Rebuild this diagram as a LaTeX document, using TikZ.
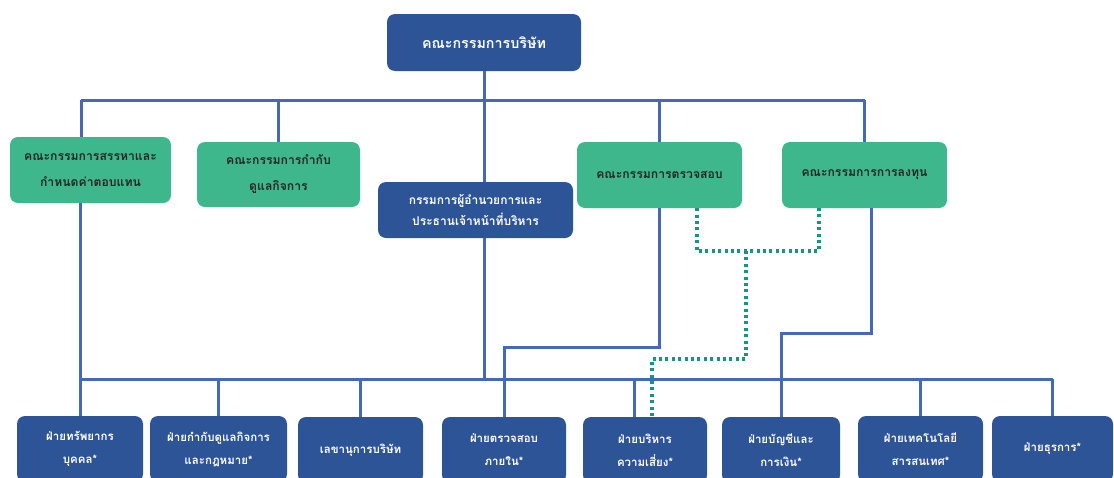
\documentclass[tikz,border=0pt]{standalone}
\usepackage{fontspec}
\newfontfamily\thaifont[Script=Thai]{Loma}
\usepackage{xcolor}
\definecolor{boardblue}{RGB}{45,84,150}
\definecolor{cmtgreen}{RGB}{62,183,140}
\definecolor{wireblue}{RGB}{70,104,184}
\definecolor{dotteal}{RGB}{20,150,128}

\begin{document}
\begin{tikzpicture}[x=1pt,y=-1pt]
  % Define overall style for the chart
  \tikzset{
    topbox/.style={
      fill=boardblue,
      rounded corners=8pt,
      inner sep=0pt,
      align=center,
      text=white,
      font=\thaifont\bfseries\fontsize{12}{21}\selectfont
    },
    cmtbox/.style={
      fill=cmtgreen,
      rounded corners=8pt,
      inner sep=0pt,
      minimum width=163pt,
      minimum height=66pt,
      align=center,
      text=black!85,
      font=\thaifont\bfseries\fontsize{12.2}{26}\selectfont
    },
    deptbox/.style={
      fill=boardblue,
      rounded corners=8pt,
      inner sep=0pt,
      minimum height=66pt,
      align=center,
      text=white,
      font=\thaifont\bfseries\fontsize{11.5}{23}\selectfont
    },
    wire/.style={
      draw=wireblue,
      line width=3pt
    },
    dotwire/.style={
      draw=dotteal,
      line width=3.2pt,
      dash pattern=on 3pt off 3.4pt
    }
  }

  \useasboundingbox (0,0) rectangle (1114,477);
  \clip (0,0) rectangle (1114,477);

  % Board and CEO
  \node[topbox, minimum width=194pt, minimum height=57pt, font=\thaifont\bfseries\fontsize{14.3}{21}\selectfont] (board) at (484,42.5) {คณะกรรมการบริษัท};
  \node[topbox, minimum width=195pt, minimum height=56pt] (ceo) at (475.5,210) {กรรมการผู้อำนวยการและ\\ประธานเจ้าหน้าที่บริหาร};

  % Committees
  \node[cmtbox, minimum width=161pt] (nom) at (90.5,170) {คณะกรรมการสรรหาและ\\กำหนดค่าตอบแทน};
  \node[cmtbox, minimum height=65pt] (gov) at (278.5,174.5) {คณะกรรมการกำกับ\\ดูแลกิจการ};
  \node[cmtbox, minimum width=165pt] (audit) at (659.5,175) {คณะกรรมการตรวจสอบ};
  \node[cmtbox, minimum width=165pt] (invest) at (864.5,175) {คณะกรรมการการลงทุน};

  % Departments
  \node[deptbox, minimum width=126pt] (hr) at (80,449) {ฝ่ายทรัพยากร\\บุคคล*};
  \node[deptbox, minimum width=137pt] (comp) at (218.5,449) {ฝ่ายกำกับดูแลกิจการ\\และกฎหมาย*};
  \node[deptbox, minimum width=125pt] (sec) at (360.5,450) {เลขานุการบริษัท};
  \node[deptbox, minimum width=124pt] (ia) at (504,450) {ฝ่ายตรวจสอบ\\ภายใน*};
  \node[deptbox, minimum width=124pt] (risk) at (645,450) {ฝ่ายบริหาร\\ความเสี่ยง*};
  \node[deptbox, minimum width=118pt] (acc) at (781,450) {ฝ่ายบัญชีและ\\การเงิน*};
  \node[deptbox, minimum width=125pt] (it) at (920.5,449) {ฝ่ายเทคโนโลยี\\สารสนเทศ*};
  \node[deptbox, minimum width=121pt] (adm) at (1052.5,449) {ฝ่ายธุรการ*};

  % Bus lines
  \coordinate (topL) at (81,100);
  \coordinate (topR) at (invest.north |- topL);
  \coordinate (botL) at (80,379);
  \coordinate (botR) at (adm.north |- botL);
  \coordinate (iaTurn) at (ia.north |- 0,347);
  \coordinate (accTurn) at (acc.north |- 0,333);
  \coordinate (dotMid) at (746,251);
  \coordinate (riskTurn) at (652,359);

  % Draw upper connections
  \draw[wire] (board.south) -- (board.south |- topL);
  \draw[wire] (topL) -- (topR);
  \draw[wire] (topL) -- (topL |- nom.north);
  \draw[wire] (gov.north |- topL) -- (gov.north);
  \draw[wire] (board.south |- topL) -- (board.south |- ceo.north);
  \draw[wire] (audit.north |- topL) -- (audit.north);
  \draw[wire] (topR) -- (invest.north);

  % Draw lower connections
  \draw[wire] (botL) -- (botR);
  \draw[wire] (nom.south -| hr.north) -- (hr.north);
  \draw[wire] (board.south |- ceo.south) -- (board.south |- botL);
  \draw[wire] (comp.north |- botL) -- (comp.north);
  \draw[wire] (sec.north |- botL) -- (sec.north);
  \draw[wire] (audit.south) |- (iaTurn) -- (ia.north);
  \draw[wire] ([xshift=-11pt]risk.north |- botL) -- ([xshift=-11pt]risk.north);
  \draw[wire] ([xshift=7pt]invest.south) |- (accTurn) -- (acc.north);
  \draw[wire] (it.north |- botL) -- (it.north);
  \draw[wire] (botR) -- (adm.north);

  % Dotted link to risk
  \draw[dotwire] ([xshift=37.5pt]audit.south) |- (dotMid) -| ([xshift=-45.5pt]invest.south);
  \draw[dotwire] (dotMid) |- (riskTurn) -- (riskTurn |- risk.north);
\end{tikzpicture}
\end{document}
